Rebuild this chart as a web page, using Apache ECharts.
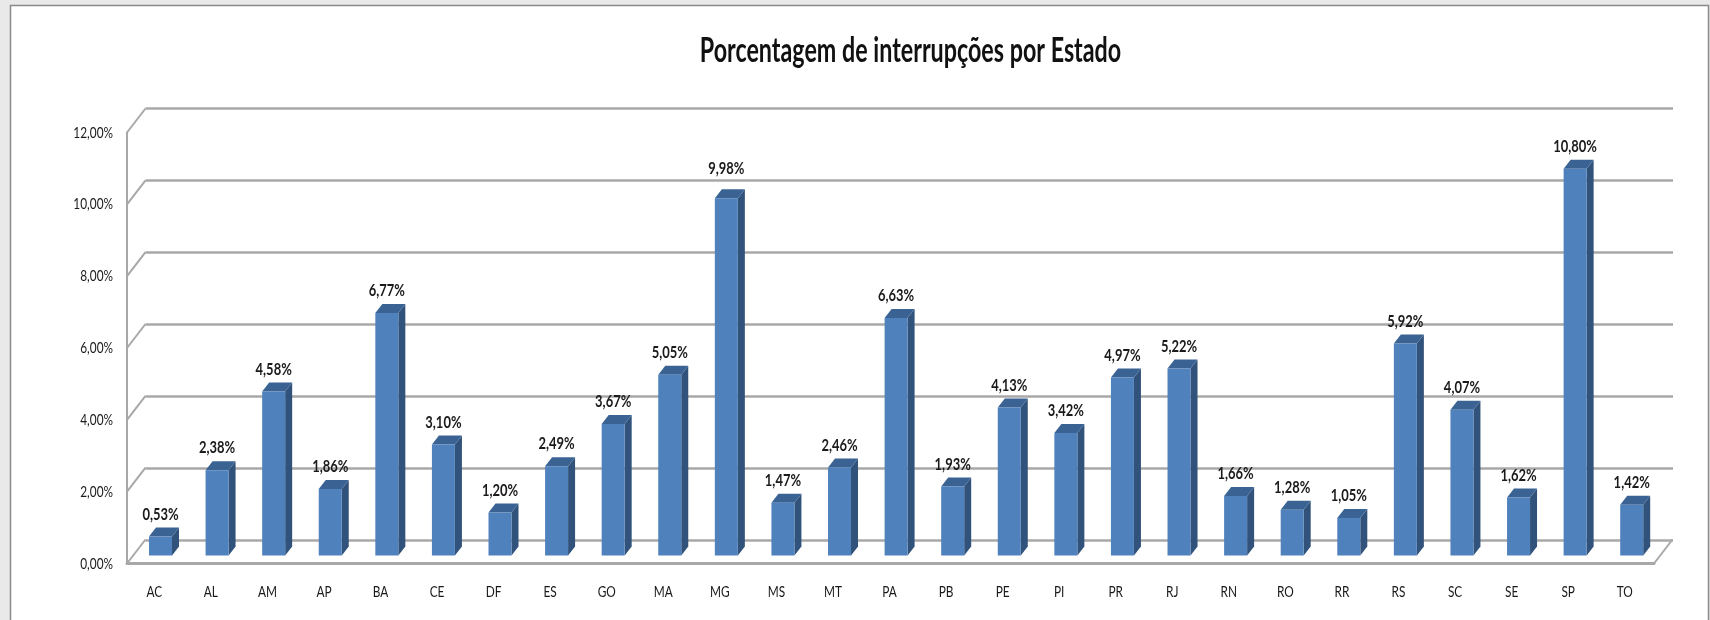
<!DOCTYPE html>
<html>
<head>
<meta charset="utf-8">
<title>Porcentagem de interrupções por Estado</title>
<script src="https://cdn.jsdelivr.net/npm/echarts@6/dist/echarts.min.js"></script>
<style>
  html, body { margin: 0; padding: 0; background: #e9e9e9; }
  #chart { width: 1710px; height: 620px; }
</style>
</head>
<body>
<div id="chart"></div>
<script>
const estados = ["AC","AL","AM","AP","BA","CE","DF","ES","GO","MA","MG","MS","MT","PA","PB","PE","PI","PR","RJ","RN","RO","RR","RS","SC","SE","SP","TO"];
const porcentagens = [0.53,2.38,4.58,1.86,6.77,3.10,1.20,2.49,3.67,5.05,9.98,1.47,2.46,6.63,1.93,4.13,3.42,4.97,5.22,1.66,1.28,1.05,5.92,4.07,1.62,10.80,1.42];
const yTicks = [0,2,4,6,8,10,12];

const FONT = 'Lato, "Liberation Sans", sans-serif';
const fmt = v => v.toFixed(2).replace(".", ",") + "%";

// a fonte original e bem estreita: os textos sao comprimidos em x
const NARROW = 0.74;

// deslocamento da parede do fundo em relacao a frente (falso 3D)
const WALL_DX = 18.5, WALL_DY = -24;

const chart = echarts.init(document.getElementById("chart"));

function narrowText(x, y, text, align, font) {
  return {
    type: "text", x: x, y: y, scaleX: NARROW,
    style: { x: 0, y: 0, text: text, align: align, verticalAlign: "middle", font: font, fill: "#1a1a1a" }
  };
}

// diagonais da parede esquerda, contorno do piso e rotulos dos eixos
function renderWall(params, api) {
  const cs = params.coordSys;
  const lineStyle = { stroke: "#a8a8a8", lineWidth: 2, fill: null };
  const kids = [];
  yTicks.forEach(t => {
    const p = api.coord([0, t]);
    kids.push({
      type: "line",
      shape: { x1: cs.x, y1: p[1], x2: cs.x + WALL_DX, y2: p[1] + WALL_DY },
      style: lineStyle
    });
    kids.push(narrowText(cs.x - 14, p[1], fmt(t), "right", "16px " + FONT));
  });
  const base = api.coord([0, 0])[1];
  kids.push({
    type: "line",
    shape: { x1: cs.x + cs.width, y1: base, x2: cs.x + cs.width + WALL_DX, y2: base + WALL_DY },
    style: lineStyle
  });
  estados.forEach((e, i) => {
    kids.push(narrowText(api.coord([i, 0])[0] - 1, base + 28, e, "center", "16px " + FONT));
  });
  return { type: "group", children: kids };
}

// barra com frente, topo, lateral e rotulo
function renderBar(params, api) {
  const idx = api.value(0), val = api.value(1);
  const top = api.coord([idx, val]);
  const bot = api.coord([idx, 0]);
  const w = 23, dx = 7, dy = 9;
  const x0 = top[0] - w / 2, x1 = top[0] + w / 2;
  // o rotulo de MG fica acima da linha de 10%
  const labelGap = estados[idx] === "MG" ? 30 : 22.5;
  return {
    type: "group",
    children: [
      { type: "polygon", shape: { points: [[x1, top[1]], [x1 + dx, top[1] - dy], [x1 + dx, bot[1] - dy], [x1, bot[1]]] }, style: { fill: "#31527a" } },
      { type: "polygon", shape: { points: [[x0, top[1]], [x0 + dx, top[1] - dy], [x1 + dx, top[1] - dy], [x1, top[1]]] }, style: { fill: "#3a6394" } },
      { type: "rect", shape: { x: x0, y: top[1], width: w, height: bot[1] - top[1] }, style: { fill: "#4f81bd" } },
      narrowText(top[0], top[1] - labelGap, fmt(val), "center", "bold 17.5px " + FONT)
    ]
  };
}

chart.setOption({
  backgroundColor: "#e9e9e9",
  animation: false,
  graphic: [{
    type: "rect", z: -10, silent: true,
    shape: { x: 10.5, y: 5.5, width: 1698, height: 630 },
    style: { fill: "#fff", stroke: "#8a8a8a", lineWidth: 1.5 }
  }, {
    type: "text", x: 910.5, y: 51, scaleX: 0.685,
    style: {
      text: "Porcentagem de interrupções por Estado",
      align: "center", verticalAlign: "middle",
      font: "bold 34px " + FONT, fill: "#111"
    }
  }],
  grid: [
    { left: 145.5, right: 37, top: 108.5, bottom: 80 },   // parede do fundo
    { left: 127, right: 56, top: 132.5, bottom: 56.5 },   // eixo da frente
    { left: 132.2, right: 50, top: 125.8, bottom: 64.5 }  // barras
  ],
  xAxis: [
    { gridIndex: 0, type: "category", data: estados, axisLine: { show: false }, axisTick: { show: false }, axisLabel: { show: false } },
    {
      gridIndex: 1, type: "category", data: estados,
      axisLine: { lineStyle: { color: "#a8a8a8", width: 3 } },
      axisTick: { show: false }, axisLabel: { show: false }
    },
    { gridIndex: 2, type: "category", data: estados, axisLine: { show: false }, axisTick: { show: false }, axisLabel: { show: false } }
  ],
  yAxis: [
    {
      gridIndex: 0, type: "value", min: 0, max: 12, interval: 2,
      axisLine: { show: false }, axisTick: { show: false }, axisLabel: { show: false },
      splitLine: { lineStyle: { color: "#a8a8a8", width: 2.5 } }
    },
    {
      gridIndex: 1, type: "value", min: 0, max: 12, interval: 2,
      axisLine: { show: true, lineStyle: { color: "#a8a8a8", width: 2 } },
      axisTick: { show: false }, splitLine: { show: false }, axisLabel: { show: false }
    },
    { gridIndex: 2, type: "value", min: 0, max: 12, interval: 2, axisLine: { show: false }, axisTick: { show: false }, axisLabel: { show: false }, splitLine: { show: false } }
  ],
  series: [
    {
      type: "custom", xAxisIndex: 1, yAxisIndex: 1, z: 2, silent: true,
      renderItem: renderWall, data: [[0, 0]], clip: false
    },
    {
      type: "custom", xAxisIndex: 2, yAxisIndex: 2, z: 5,
      renderItem: renderBar, clip: false,
      encode: { x: 0, y: 1 },
      data: porcentagens.map((v, i) => [i, v])
    }
  ]
});
</script>
</body>
</html>
